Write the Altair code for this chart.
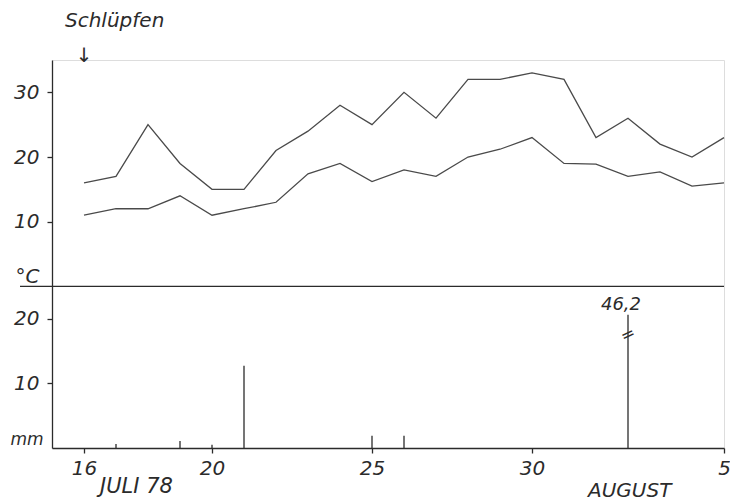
import altair as alt
import pandas as pd

# ---- values ----
# day index: 16..31 = 16-31 July 1978, 32..36 = 1-5 August 1978
days = list(range(16, 37))
tmax = [16, 17, 25, 19, 15, 15, 21, 24, 28, 25, 30, 26, 32, 32, 33, 32, 23, 26, 22, 20, 23]
tmin = [11, 12, 12, 14, 11, 12, 13, 17.4, 19, 16.2, 18, 17, 20, 21.2, 23, 19, 18.9, 17, 17.7, 15.5, 16]
rain_days = [17, 19, 20, 21, 25, 26, 33]
rain_mm = [0.6, 1.1, 0.5, 12.7, 1.9, 1.9, 46.2]
x_tick_days = [16, 20, 25, 30, 36]
temp_ticks = [10, 20, 30]
mm_ticks = [10, 20]
hatch_day = [16]
hatch_label = ["Schlüpfen"]
month_days = [16, 32]
month_labels = ["JULI 78", "AUGUST"]

# ---- layout constants ----
MM_OFFSET = 25      # precipitation panel: 0 mm sits 25 units below the 0 °C line
CAP = 20.6          # broken bar is drawn up to this many mm
BREAK_AT = 17.5     # where the break sign sits on the broken bar
INK = "#2b2b2b"
LINE = "#4a4a4a"
FONT = "DejaVu Sans"

temp = pd.DataFrame({
    "day": days * 2,
    "t": tmax + tmin,
    "series": ["max"] * len(days) + ["min"] * len(days),
})
rain = pd.DataFrame({"day": rain_days, "mm": rain_mm})
zero = pd.DataFrame({"t": [0]})
hatch = pd.DataFrame({"day": hatch_day, "label": hatch_label})
months = pd.DataFrame({"day": month_days, "label": month_labels})

xs = alt.Scale(domain=[15, 36], nice=False, zero=False)
ys = alt.Scale(domain=[-MM_OFFSET, 35], nice=False, zero=False)

special = f"datum.value == 0 || datum.value == {-MM_OFFSET}"
is_mm = f"datum.value == {-MM_OFFSET}"
y_values = [-MM_OFFSET] + [v - MM_OFFSET for v in mm_ticks] + [0] + temp_ticks

yaxis = alt.Axis(
    values=y_values,
    labelExpr=(f"datum.value == 0 ? '°C' : datum.value == {-MM_OFFSET} ? 'mm' : "
               f"(datum.value < 0 ? datum.value + {MM_OFFSET} : datum.value)"),
    grid=False, tickSize=5, tickWidth=1.3,
    tickColor={"condition": {"test": special, "value": "transparent"}, "value": INK},
    labelBaseline={"condition": {"test": special, "value": "bottom"}, "value": "middle"},
    labelFontSize={"condition": {"test": is_mm, "value": 17}, "value": 20},
    labelPadding={"condition": {"test": is_mm, "value": 4}, "value": 8},
    labelFont=FONT, labelFontStyle="italic", labelColor=INK,
    labelOverlap=False, domainColor=INK, domainWidth=1.3, title=None,
)
xaxis = alt.Axis(
    values=x_tick_days,
    labelExpr="datum.value > 31 ? datum.value - 31 : datum.value",
    grid=False, tickSize=5, tickWidth=1.3, tickColor=INK,
    labelFont=FONT, labelFontSize=20, labelFontStyle="italic", labelColor=INK,
    labelPadding=5, labelFlush=False, labelOverlap=False,
    domainColor=INK, domainWidth=1.3, title=None,
)

lines = alt.Chart(temp).mark_line(color=LINE, strokeWidth=1.3).encode(
    x=alt.X("day:Q", scale=xs, axis=xaxis),
    y=alt.Y("t:Q", scale=ys, axis=yaxis),
    detail="series:N",
)

divider = alt.Chart(zero).mark_rule(color=INK, strokeWidth=1.3).encode(
    y=alt.Y("t:Q", title=None),
    x=alt.value(-32),
    x2=alt.value(672),
)

rain_base = alt.Chart(rain).transform_calculate(
    top=f"min(datum.mm, {CAP}) - {MM_OFFSET}",
    base=f"{-MM_OFFSET}",
    brk=f"{BREAK_AT - MM_OFFSET}",
    lab="replace(format(datum.mm, '.1f'), '.', ',')",
)

rain_rules = rain_base.mark_rule(color=INK, strokeWidth=1.3).encode(
    x=alt.X("day:Q", title=None),
    y=alt.Y("top:Q", title=None),
    y2="base:Q",
)

broken = rain_base.transform_filter(f"datum.mm > {CAP}")

break_mark = broken.mark_text(
    text="=", font=FONT, fontSize=17, angle=335, color=INK, baseline="middle", align="center"
).encode(x="day:Q", y="brk:Q")

rain_label = broken.mark_text(
    font=FONT, fontSize=18, fontStyle="italic", color=INK,
    baseline="alphabetic", align="center", dx=-7, dy=-5,
).encode(x="day:Q", y="top:Q", text="lab:N")

hatch_text = alt.Chart(hatch).mark_text(
    font=FONT, fontSize=20, fontStyle="italic", color=INK,
    align="left", baseline="alphabetic", dx=-19,
).encode(x="day:Q", y=alt.value(-33), text="label:N")

hatch_arrow = alt.Chart(hatch).mark_text(
    text="↓", font=FONT, fontSize=20, color=INK, align="center", baseline="middle",
).encode(x="day:Q", y=alt.value(-4))

july_text = alt.Chart(months).transform_filter("datum.day < 32").mark_text(
    font=FONT, fontSize=21, fontStyle="italic", color=INK,
    align="left", baseline="alphabetic", dx=16,
).encode(x="day:Q", y=alt.value(433), text="label:N")

aug_text = alt.Chart(months).transform_filter("datum.day >= 32").mark_text(
    font=FONT, fontSize=20, fontStyle="italic", color=INK,
    align="left", baseline="alphabetic", dx=-8,
).encode(x="day:Q", y=alt.value(437), text="label:N")

chart = alt.layer(
    lines, divider, rain_rules, break_mark, rain_label,
    hatch_text, hatch_arrow, july_text, aug_text,
).properties(
    width=672, height=388,
    autosize=alt.AutoSizeParams(type="none"),
    padding={"left": 44, "top": 52, "right": 6, "bottom": 56},
).configure_view(stroke=None).configure(background="white")

chart.save("out.html", embed_options={"renderer": "svg", "actions": False})
